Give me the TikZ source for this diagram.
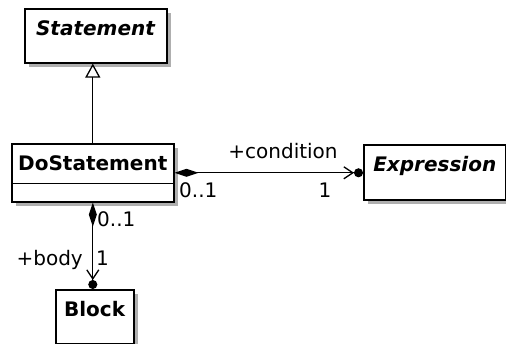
\documentclass[tikz,border=0pt]{standalone}
\usepackage{fontspec}
\setmainfont{DejaVu Sans}
\usetikzlibrary{arrows.meta,calc,shadows}
\definecolor{shadowgray}{RGB}{175,175,175}

\begin{document}
\begin{tikzpicture}[x=1pt,y=-1pt,font=\fontsize{20}{24}\selectfont,
 classbox/.style={draw,line width=1.6pt,fill=white,inner xsep=0pt,inner ysep=12pt,text height=15pt,anchor=north west,
  drop shadow={shadow xshift=4pt,shadow yshift=-4pt,fill=shadowgray,opacity=1}},
 assoc/.style={line width=1.3pt,{Diamond[length=24pt,width=8pt]}-{Straight Barb[length=9pt,width=12pt] Circle[length=9pt]}},
 lbl/.style={inner sep=0pt}]
 \useasboundingbox (0,0) rectangle (506,344);
 \node[classbox,minimum width=142pt,text depth=15pt] (statement) at (24,8) {\textbf{\textit{Statement}}};
 \node[classbox,minimum width=162pt,text depth=19pt] (dostmt) at (11,143) {\textbf{DoStatement}};
 \draw[line width=1.6pt] ([yshift=19pt]dostmt.south west) -- ([yshift=19pt]dostmt.south east);
 \node[classbox,minimum width=142pt,text depth=16pt] (expression) at (363,144) {\textbf{\textit{Expression}}};
 \node[classbox,minimum width=78pt,text depth=15pt] (block) at (55,289) {\textbf{Block}};
 \draw[line width=1.3pt,-{Triangle[open,length=14pt,width=15pt]}] (dostmt.north) -- (dostmt.north |- statement.south);
 \draw[assoc] (dostmt.east) -- (dostmt.east -| expression.west);
 \draw[assoc] (dostmt.south) -- (dostmt.south |- block.north);
 \node[lbl,anchor=base] (cond) at (283,159) {+condition};
 \node[lbl,anchor=base west] (condsrc) at (179,198) {0..1};
 \node[lbl,anchor=base] (condtgt) at (325,198) {1};
 \node[lbl,anchor=base west] (bodysrc) at (97,227) {0..1};
 \node[lbl,anchor=base east] (body) at (83,266) {+body};
 \node[lbl,anchor=base west] (bodytgt) at (96,266) {1};
\end{tikzpicture}
\end{document}
